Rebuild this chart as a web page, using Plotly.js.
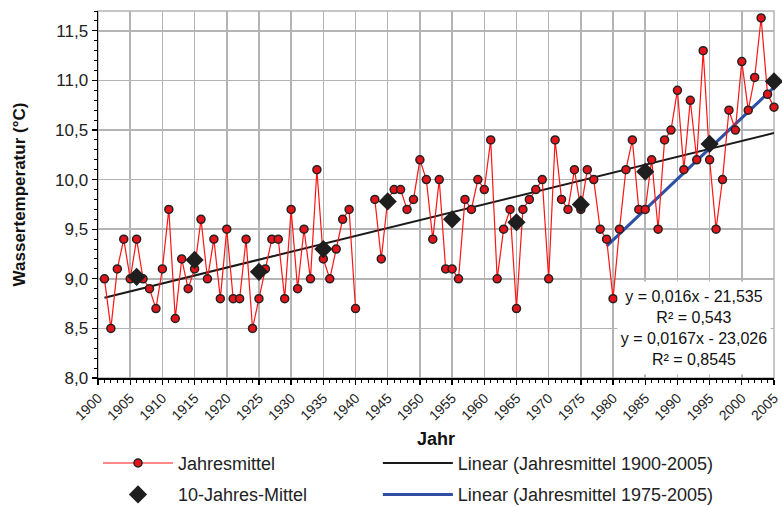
<!DOCTYPE html>
<html>
<head>
<meta charset="utf-8">
<script src="https://cdn.plot.ly/plotly-3.0.1.min.js"></script>
<style>html,body{margin:0;padding:0;background:#fff;}#chart{width:782px;height:506px;}</style>
</head>
<body>
<div id="chart"></div>
<script>
// Annual mean water temperature (°C), 1901-2005 (null = no data)
const years = [];
for (let y = 1901; y <= 2005; y++) years.push(y);
const annualMeans = [
  9.0, 8.5, 9.1, 9.4, 9.0, 9.4, 9.0, 8.9, 8.7, 9.1,      // 1901-1910
  9.7, 8.6, 9.2, 8.9, 9.1, 9.6, 9.0, 9.4, 8.8, 9.5,      // 1911-1920
  8.8, 8.8, 9.4, 8.5, 8.8, 9.1, 9.4, 9.4, 8.8, 9.7,      // 1921-1930
  8.9, 9.5, 9.0, 10.1, 9.2, 9.0, 9.3, 9.6, 9.7, 8.7,     // 1931-1940
  null, null, 9.8, 9.2, 9.8, 9.9, 9.9, 9.7, 9.8, 10.2,   // 1941-1950
  10.0, 9.4, 10.0, 9.1, 9.1, 9.0, 9.8, 9.7, 10.0, 9.9,   // 1951-1960
  10.4, 9.0, 9.5, 9.7, 8.7, 9.7, 9.8, 9.9, 10.0, 9.0,    // 1961-1970
  10.4, 9.8, 9.7, 10.1, 9.7, 10.1, 10.0, 9.5, 9.4, 8.8,  // 1971-1980
  9.5, 10.1, 10.4, 9.7, 9.7, 10.2, 9.5, 10.4, 10.5, 10.9,// 1981-1990
  10.1, 10.8, 10.2, 11.3, 10.2, 9.5, 10.0, 10.7, 10.5, 11.19, // 1991-2000
  10.7, 11.03, 11.63, 10.86, 10.73                        // 2001-2005
];
// 10-year means
const decadeYears = [1906, 1915, 1925, 1935, 1945, 1955, 1965, 1975, 1985, 1995, 2005];
const decadeMeans = [9.02, 9.19, 9.07, 9.30, 9.78, 9.60, 9.57, 9.75, 10.08, 10.36, 10.99];
// Linear trend lines (end points)
const trendAllYears = [1901, 2005];
const trendAllValues = [8.81, 10.47];
const trendRecentYears = [1979, 2005];
const trendRecentValues = [9.33, 10.93];
// Labels
const legendNames = ['Jahresmittel', '10-Jahres-Mittel', 'Linear (Jahresmittel 1900-2005)', 'Linear (Jahresmittel 1975-2005)'];
const equationText = 'y = 0,016x - 21,535<br>R² = 0,543<br>y = 0,0167x - 23,026<br>R² = 0,8545';

const FONT = 'Liberation Sans, Arial, Helvetica, sans-serif';
const GRID = '#b4b4b4';

const traces = [
  {
    x: trendAllYears, y: trendAllValues, mode: 'lines', name: legendNames[2],
    line: {color: '#1a1a1a', width: 2}, legend: 'legend2', legendgroup: 'c', legendrank: 1
  },
  {
    x: trendRecentYears, y: trendRecentValues, mode: 'lines', name: legendNames[3],
    line: {color: '#2d4fa5', width: 3}, legend: 'legend2', legendgroup: 'd', legendrank: 2
  },
  {
    x: years, y: annualMeans, mode: 'lines+markers', name: legendNames[0], connectgaps: false,
    line: {color: '#ff1414', width: 1.2},
    marker: {size: 8, color: '#e3141b', line: {color: '#222', width: 1.5}},
    cliponaxis: false, legend: 'legend', legendgroup: 'a', legendrank: 1
  },
  {
    x: decadeYears, y: decadeMeans, mode: 'markers', name: legendNames[1],
    marker: {symbol: 'diamond', size: 14, color: '#1e1e1e', line: {width: 0}},
    cliponaxis: false, legend: 'legend', legendgroup: 'b', legendrank: 2
  }
];

const legendCommon = {
  orientation: 'v', xref: 'paper', yref: 'paper', yanchor: 'top', xanchor: 'left',
  font: {family: FONT, size: 18, color: '#222'}, bgcolor: 'rgba(0,0,0,0)',
  tracegroupgap: 5, itemwidth: 70
};

const layout = {
  width: 782, height: 506,
  margin: {l: 98, r: 8, t: 11, b: 128, autoexpand: false},
  paper_bgcolor: '#fff', plot_bgcolor: '#fff',
  separators: ',.',
  font: {family: FONT, color: '#222'},
  showlegend: true,
  legend: Object.assign({x: 0, y: -0.182}, legendCommon),
  legend2: Object.assign({x: 0.414, y: -0.182}, legendCommon),
  xaxis: {
    range: [1900, 2005], tick0: 1900, dtick: 5, tickformat: 'd', automargin: false,
    tickangle: -45, tickfont: {family: FONT, size: 14, color: '#222'},
    ticks: 'outside', ticklen: 5, tickcolor: '#000', tickwidth: 1.3,
    showline: true, linecolor: '#000', linewidth: 1.5,
    showgrid: true, gridcolor: GRID, gridwidth: 1.5, zeroline: false,
    minor: {dtick: 1, ticks: 'outside', ticklen: 3, tickcolor: '#000', tickwidth: 1, showgrid: false},
    title: {text: '<b>Jahr</b>', font: {family: FONT, size: 18, color: '#111'}, standoff: 10}
  },
  yaxis: {
    range: [8, 11.7], tick0: 8, dtick: 0.5, tickformat: '.1f', automargin: false,
    tickfont: {family: FONT, size: 17, color: '#222'},
    ticks: 'outside', ticklen: 5, tickcolor: '#000', tickwidth: 1.3,
    showline: true, linecolor: '#000', linewidth: 1.5,
    showgrid: true, gridcolor: GRID, gridwidth: 1.5, zeroline: false,
    minor: {dtick: 0.1, ticks: 'outside', ticklen: 3, tickcolor: '#000', tickwidth: 1, showgrid: false},
    title: {text: '<b>Wassertemperatur (°C)</b>', font: {family: FONT, size: 17, color: '#111'}, standoff: 25}
  },
  shapes: [
    {type: 'rect', xref: 'paper', yref: 'paper', x0: 0, x1: 1, y0: 0, y1: 1,
     line: {color: GRID, width: 1.5}, layer: 'below'}
  ],
  annotations: [
    {xref: 'paper', yref: 'paper', x: 0.8816, y: 0.1374, xanchor: 'center', yanchor: 'middle',
     text: equationText, showarrow: false, align: 'center', valign: 'middle',
     font: {family: FONT, size: 16, color: '#111'}, bgcolor: '#fff', width: 152, height: 92, borderpad: 0}
  ]
};

Plotly.newPlot('chart', traces, layout, {staticPlot: true, displayModeBar: false});
</script>
</body>
</html>
